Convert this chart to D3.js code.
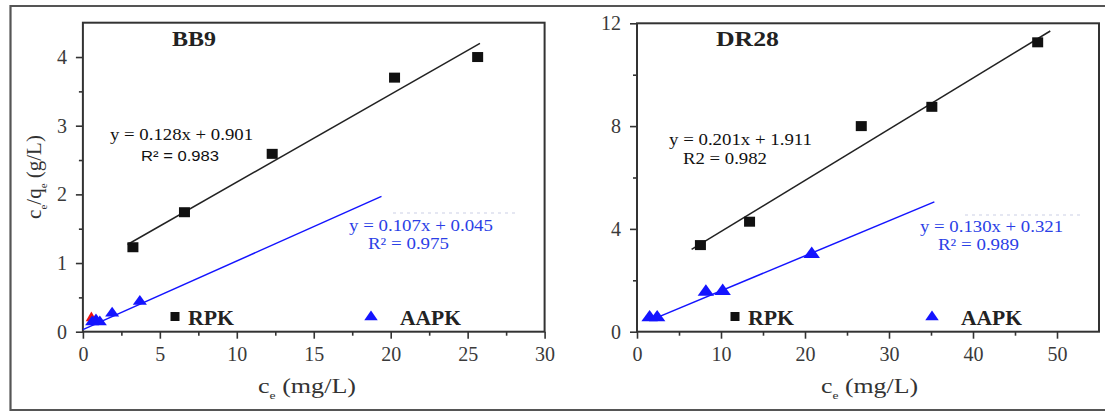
<!DOCTYPE html>
<html>
<head>
<meta charset="utf-8">
<script src="https://cdn.jsdelivr.net/npm/d3@7"></script>
<style>
  body { margin: 0; background: #fff; }
  svg { display: block; }
</style>
</head>
<body>
<div id="chart"></div>
<script>
// ---- BB9 panel data ----
const bb9XTicks = [0, 5, 10, 15, 20, 25, 30];
const bb9XMinor = [2.5, 7.5, 12.5, 17.5, 22.5, 27.5];
const bb9YTicks = [0, 1, 2, 3, 4];
const bb9YMinor = [0.5, 1.5, 2.5, 3.5];
const bb9RpkX = [3.25, 6.6, 12.3, 20.25, 25.65];
const bb9RpkY = [1.23, 1.74, 2.59, 3.70, 4.00];
const bb9AapkX = [0.6, 0.85, 1.1, 1.9, 3.7];
const bb9AapkY = [0.14, 0.17, 0.14, 0.27, 0.44];
const bb9RedX = [0.55];
const bb9RedY = [0.2];
const bb9RpkFitX = [2.9, 25.8];
const bb9RpkFitY = [1.27, 4.2];
const bb9AapkFitX = [0, 19.4];
const bb9AapkFitY = [0.03, 1.97];

// ---- DR28 panel data ----
const dr28XTicks = [0, 10, 20, 30, 40, 50];
const dr28XMinor = [5, 15, 25, 35, 45];
const dr28YTicks = [0, 4, 8, 12];
const dr28YMinor = [2, 6, 10];
const dr28RpkX = [7.55, 13.4, 26.7, 35.1, 47.7];
const dr28RpkY = [3.37, 4.28, 8.0, 8.75, 11.26];
const dr28AapkX = [1.5, 2.4, 8.2, 10.2, 20.8];
const dr28AapkY = [0.55, 0.55, 1.55, 1.58, 3.02];
const dr28RpkFitX = [6.5, 49.2];
const dr28RpkFitY = [3.2, 11.7];
const dr28AapkFitX = [2.0, 35.4];
const dr28AapkFitY = [0.5, 5.05];

const W = 1105, H = 412;
const BLUE = "#1414ff", BLUE_TXT = "#2b3fe6";
const SERIF = "'Liberation Serif', 'Times New Roman', serif";
const SANS = "'Liberation Sans', Arial, sans-serif";

const svg = d3.select("#chart").append("svg")
    .attr("width", W)
    .attr("height", H);

// outer picture border
svg.append("path")
    .attr("d", `M1105,6 H10.5 V410 H1105`)
    .attr("fill", "none")
    .attr("stroke", "#555")
    .attr("stroke-width", 2.2);

const zip = (xs, ys) => xs.map((x, i) => [x, ys[i]]);

// text helper: font size + stretched to the width seen in the picture
function label(g, x, y, txt, size, len, opts = {}) {
  const t = g.append("text").attr("x", x).attr("y", y)
      .style("font-family", opts.family || SERIF)
      .style("font-size", size + "px")
      .style("font-weight", opts.bold ? "bold" : "normal")
      .attr("fill", opts.fill || "#111")
      .text(txt);
  if (len) t.attr("textLength", len).attr("lengthAdjust", "spacingAndGlyphs");
  return t;
}

function drawPanel(p) {
  const x = d3.scaleLinear().domain(p.xDomain).range([p.left, p.right]);
  const y = d3.scaleLinear().domain(p.yDomain).range([p.bottom, p.top]);
  const g = svg.append("g");

  // axes (major + minor)
  g.append("g").attr("transform", `translate(0,${p.bottom})`)
      .call(d3.axisBottom(x).tickValues(p.xTicks).tickSize(7).tickSizeOuter(0).tickPadding(8)
          .tickFormat(d3.format("d")));
  g.append("g").attr("transform", `translate(0,${p.bottom})`)
      .call(d3.axisBottom(x).tickValues(p.xMinor).tickSize(4).tickSizeOuter(0).tickFormat(""));
  g.append("g").attr("transform", `translate(${p.left},0)`)
      .call(d3.axisLeft(y).tickValues(p.yTicks).tickSize(7).tickSizeOuter(0).tickPadding(9)
          .tickFormat(d3.format("d")));
  g.append("g").attr("transform", `translate(${p.left},0)`)
      .call(d3.axisLeft(y).tickValues(p.yMinor).tickSize(4).tickSizeOuter(0).tickFormat(""));
  g.selectAll(".domain").remove();
  g.selectAll(".tick line").attr("stroke", "#333").attr("stroke-width", 1.6);
  g.selectAll(".tick text")
      .style("font-family", SERIF)
      .style("font-size", "20px")
      .attr("fill", "#3a3a3a");

  // frame
  g.append("rect")
      .attr("x", p.left).attr("y", p.top)
      .attr("width", p.right - p.left).attr("height", p.bottom - p.top)
      .attr("fill", "none").attr("stroke", "#333").attr("stroke-width", 2);

  const line = d3.line().x(d => x(d[0])).y(d => y(d[1]));

  // fit lines
  g.append("path").datum(zip(p.rpkFitX, p.rpkFitY))
      .attr("d", line).attr("fill", "none").attr("stroke", "#222").attr("stroke-width", 1.5);
  g.append("path").datum(zip(p.aapkFitX, p.aapkFitY))
      .attr("d", line).attr("fill", "none").attr("stroke", BLUE).attr("stroke-width", 1.5);

  const tri = d3.symbol().type(d3.symbolTriangle).size(p.triSize);

  if (p.redX) {
    g.selectAll(".red").data(zip(p.redX, p.redY)).join("path")
        .attr("d", tri)
        .attr("transform", d => `translate(${x(d[0])},${y(d[1])})`)
        .attr("fill", "#f01010");
  }
  g.selectAll(".tri").data(zip(p.aapkX, p.aapkY)).join("path")
      .attr("d", tri)
      .attr("transform", d => `translate(${x(d[0])},${y(d[1])}) scale(1.25,1)`)
      .attr("fill", BLUE);
  g.selectAll(".sq").data(zip(p.rpkX, p.rpkY)).join("rect")
      .attr("x", d => x(d[0]) - 5.5).attr("y", d => y(d[1]) - 5)
      .attr("width", 11).attr("height", 10)
      .attr("fill", "#111");

  // title
  label(g, p.titleX, 46, p.title, 22, p.titleLen, { bold: true, fill: "#222" });

  // equations
  label(g, p.eq1[0], p.eq1[1], p.eq1Text, 16, p.eq1[2]);
  label(g, p.r1[0], p.r1[1], p.r1Text, p.r1Size, p.r1[2], { family: p.r1Font });
  label(g, p.eq2[0], p.eq2[1], p.eq2Text, 16, p.eq2[2], { fill: BLUE_TXT });
  label(g, p.r2[0], p.r2[1], p.r2Text, 16, p.r2[2], { fill: BLUE_TXT });

  // faint text-box remnant
  g.append("line")
      .attr("x1", p.faint[0]).attr("x2", p.faint[1])
      .attr("y1", p.faint[2]).attr("y2", p.faint[2])
      .attr("stroke", "#dde0ee").attr("stroke-width", 1.5)
      .attr("stroke-dasharray", "3,4");

  // legend
  g.append("rect").attr("x", p.legSq - 4.5).attr("y", 312).attr("width", 9).attr("height", 9).attr("fill", "#111");
  label(g, p.legSq + 13, 325, "RPK", 21, 46, { bold: true, fill: "#222" });
  g.append("path").attr("d", d3.symbol().type(d3.symbolTriangle).size(55))
      .attr("transform", `translate(${p.legTri},${317}) scale(1.2,1)`).attr("fill", BLUE);
  label(g, p.legTri + 29, 325, "AAPK", 21, 61, { bold: true, fill: "#222" });

  // x label
  const xl = g.append("text").attr("x", p.xLabelX).attr("y", 393)
      .style("font-family", SERIF).style("font-size", "21px").attr("fill", "#333")
      .attr("textLength", p.xLabelLen).attr("lengthAdjust", "spacingAndGlyphs");
  xl.append("tspan").text("c");
  xl.append("tspan").style("font-size", "11px").attr("dy", 6).text("e");
  xl.append("tspan").attr("dy", -6).text(" (mg/L)");

  if (p.yLabel) {
    const yl = g.append("text")
        .attr("transform", "translate(41,177) rotate(-90)")
        .attr("text-anchor", "middle")
        .style("font-family", SERIF).style("font-size", "21px").attr("fill", "#333");
    yl.append("tspan").text("c");
    yl.append("tspan").style("font-size", "11px").attr("dy", 6).text("e");
    yl.append("tspan").attr("dy", -6).text("/q");
    yl.append("tspan").style("font-size", "11px").attr("dy", 6).text("e");
    yl.append("tspan").attr("dy", -6).text(" (g/L)");
  }
}

drawPanel({
  left: 82.9, right: 544.6, top: 22.7, bottom: 331.7,
  xDomain: [0, 30], yDomain: [0, 4.5],
  xTicks: bb9XTicks, xMinor: bb9XMinor, yTicks: bb9YTicks, yMinor: bb9YMinor,
  rpkX: bb9RpkX, rpkY: bb9RpkY, aapkX: bb9AapkX, aapkY: bb9AapkY,
  redX: bb9RedX, redY: bb9RedY,
  rpkFitX: bb9RpkFitX, rpkFitY: bb9RpkFitY, aapkFitX: bb9AapkFitX, aapkFitY: bb9AapkFitY,
  triSize: 55,
  title: "BB9", titleX: 172, titleLen: 44,
  eq1: [110, 140, 143], eq1Text: "y = 0.128x + 0.901",
  r1: [141, 161, 78], r1Text: "R² = 0.983", r1Font: SANS, r1Size: 15,
  eq2: [349, 231, 144], eq2Text: "y = 0.107x + 0.045",
  r2: [368, 249, 81], r2Text: "R² = 0.975",
  faint: [393, 518, 213],
  legSq: 175, legTri: 371,
  xLabelX: 258, xLabelLen: 98, yLabel: true
});

drawPanel({
  left: 637, right: 1099, top: 23.3, bottom: 331.7,
  xDomain: [0, 55], yDomain: [0, 12],
  xTicks: dr28XTicks, xMinor: dr28XMinor, yTicks: dr28YTicks, yMinor: dr28YMinor,
  rpkX: dr28RpkX, rpkY: dr28RpkY, aapkX: dr28AapkX, aapkY: dr28AapkY,
  rpkFitX: dr28RpkFitX, rpkFitY: dr28RpkFitY, aapkFitX: dr28AapkFitX, aapkFitY: dr28AapkFitY,
  triSize: 75,
  title: "DR28", titleX: 716, titleLen: 63,
  eq1: [669, 145, 143], eq1Text: "y = 0.201x + 1.911",
  r1: [683, 164, 84], r1Text: "R2 = 0.982", r1Font: SERIF, r1Size: 16,
  eq2: [920, 232, 143], eq2Text: "y = 0.130x + 0.321",
  r2: [938, 250, 81], r2Text: "R² = 0.989",
  faint: [965, 1081, 215],
  legSq: 735, legTri: 932,
  xLabelX: 821, xLabelLen: 97, yLabel: false
});
</script>
</body>
</html>
